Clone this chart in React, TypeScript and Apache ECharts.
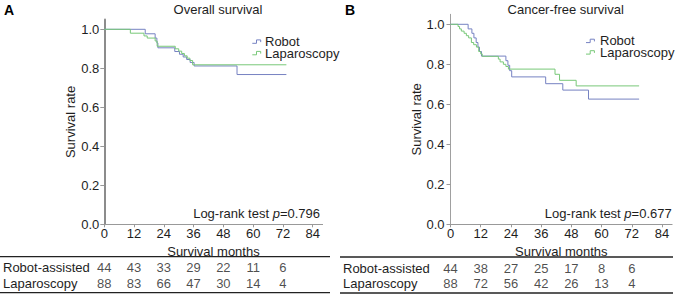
import React, { useEffect, useRef } from 'react';
import * as echarts from 'echarts';

const FONT = '"Liberation Sans", Arial, sans-serif';
const BLUE = '#7682c2';
const GREEN = '#78c878';
const AXIS = '#999999';
const TEXT = '#1e1e1e';

const xTickValues = [0, 12, 24, 36, 48, 60, 72, 84];
const yTickValues = [0, 0.2, 0.4, 0.6, 0.8, 1.0];
const riskTimes = [0, 12, 24, 36, 48, 60, 72];
const rowNames = ['Robot-assisted', 'Laparoscopy'];
const legendNames = ['Robot', 'Laparoscopy'];

const panelTitles = ['Overall survival', 'Cancer-free survival'];
const panelLetters = ['A', 'B'];
const logRankP = ['0.796', '0.677'];

// Overall survival (months, survival probability)
const osRobot: number[][] = [
  [0, 1], [16.5, 0.977], [20.5, 0.955], [21.2, 0.93], [21.6, 0.905], [28.4, 0.886],
  [30.3, 0.872], [31.8, 0.858], [33.2, 0.845], [34.6, 0.83], [36.2, 0.812],
  [53.5, 0.768], [73.4, 0.768],
];
const osLap: number[][] = [
  [0, 1], [10.5, 0.98], [16, 0.966], [17.3, 0.955], [20.5, 0.94], [21.3, 0.913],
  [28.6, 0.9], [30, 0.888], [31.2, 0.876], [32.3, 0.864], [33.4, 0.852],
  [34.5, 0.84], [35.6, 0.818], [73.4, 0.818],
];

// Cancer-free survival
const cfsRobot: number[][] = [
  [0, 1], [7, 0.977], [8.5, 0.955], [9.3, 0.932], [10.2, 0.909], [10.9, 0.886],
  [11.5, 0.864], [12.3, 0.841], [22, 0.818], [22.8, 0.795], [23.5, 0.768],
  [24.3, 0.737], [37.8, 0.703], [44.6, 0.671], [54.8, 0.626], [74.9, 0.626],
];
const cfsLap: number[][] = [
  [0, 1], [3, 0.989], [3.6, 0.977], [4.3, 0.966], [5.4, 0.955], [6.3, 0.943],
  [7.2, 0.932], [8.3, 0.909], [9.2, 0.898], [10.3, 0.886], [11.2, 0.864],
  [12, 0.852], [12.6, 0.84], [19, 0.826], [19.7, 0.812], [21, 0.8], [22, 0.789],
  [23, 0.776], [41.5, 0.75], [43.3, 0.72], [49.9, 0.692], [74.9, 0.692],
];

// Numbers at risk
const osRobotRisk = [44, 43, 33, 29, 22, 11, 6];
const osLapRisk = [88, 83, 66, 47, 30, 14, 4];
const cfsRobotRisk = [44, 38, 27, 25, 17, 8, 6];
const cfsLapRisk = [88, 72, 56, 42, 26, 13, 4];

const panels = [
  {
    left: 104.3, width: 218.3, top: 19.55, height: 204.75,
    tableTop: 259.9, tableHeight: 31.4,
    yAxisWidth: 2, yAxisColor: '#8c8c8c', yLabelMargin: 5, yNameGap: 26,
    rowLabelMargin: 101.3,
    titleX: 218, legendIconX: 252.3, legendTextX: 265,
    pTextX: 320, lineX0: 0, lineX1: 330, lineY0: 256.7, lineY1: 292.7,
    robot: osRobot, lap: osLap, robotRisk: osRobotRisk, lapRisk: osLapRisk,
    firstColOffset: -1,
  },
  {
    left: 450.5, width: 221.6, top: 14.3, height: 210,
    tableTop: 260.2, tableHeight: 31.6,
    yAxisWidth: 1, yAxisColor: '#a0a0a0', yLabelMargin: 6, yNameGap: 21,
    rowLabelMargin: 107.5,
    titleX: 565.7, legendIconX: 586, legendTextX: 600,
    pTextX: 671.7, lineX0: 340, lineX1: 673, lineY0: 257, lineY1: 293,
    robot: cfsRobot, lap: cfsLap, robotRisk: cfsRobotRisk, lapRisk: cfsLapRisk,
    firstColOffset: -6,
  },
];

function buildOption() {
  const grid: any[] = [];
  const xAxis: any[] = [];
  const yAxis: any[] = [];
  const series: any[] = [];
  const graphic: any[] = [];

  panels.forEach((p, i) => {
    grid.push({
      left: p.left, top: p.top, width: p.width, height: p.height,
      containLabel: false, outerBoundsMode: 'none',
    });
    grid.push({
      left: p.left, top: p.tableTop, width: p.width, height: p.tableHeight,
      containLabel: false, outerBoundsMode: 'none',
    });

    xAxis.push({
      type: 'value', gridIndex: i * 2, min: 0, max: 88,
      name: 'Survival months', nameLocation: 'middle', nameGap: 14,
      nameTextStyle: { fontFamily: FONT, fontSize: 13, color: TEXT },
      axisLine: { show: true, lineStyle: { color: AXIS, width: 1 } },
      axisTick: { show: true, length: 3, lineStyle: { color: AXIS }, customValues: xTickValues },
      axisLabel: {
        show: true, margin: 3, fontFamily: FONT, fontSize: 13, color: TEXT,
        customValues: xTickValues,
      },
      splitLine: { show: false },
    });
    xAxis.push({
      type: 'value', gridIndex: i * 2 + 1, min: 0, max: 88, show: false,
    });

    yAxis.push({
      type: 'value', gridIndex: i * 2, min: 0, max: 1.05,
      name: 'Survival rate', nameLocation: 'middle', nameGap: p.yNameGap, nameRotate: 90,
      nameTextStyle: { fontFamily: FONT, fontSize: 13, color: TEXT },
      axisLine: { show: true, lineStyle: { color: p.yAxisColor, width: p.yAxisWidth } },
      axisTick: { show: true, length: 4, lineStyle: { color: AXIS }, customValues: yTickValues },
      axisLabel: {
        show: true, margin: p.yLabelMargin, fontFamily: FONT, fontSize: 13, color: TEXT,
        customValues: yTickValues,
        formatter: (v: number) => v.toFixed(1),
      },
      splitLine: { show: false },
    });
    yAxis.push({
      type: 'category', gridIndex: i * 2 + 1, data: rowNames, inverse: true,
      axisLine: { show: false }, axisTick: { show: false }, splitLine: { show: false },
      axisLabel: {
        show: true, interval: 0, align: 'left', margin: p.rowLabelMargin,
        fontFamily: FONT, fontSize: 13, color: TEXT, lineHeight: 13,
      },
    });

    series.push({
      type: 'line', name: legendNames[0], xAxisIndex: i * 2, yAxisIndex: i * 2,
      data: p.robot, step: 'end', showSymbol: false, symbol: 'none',
      lineStyle: { color: BLUE, width: 1 }, itemStyle: { color: BLUE }, z: 2,
    });
    series.push({
      type: 'line', name: legendNames[1], xAxisIndex: i * 2, yAxisIndex: i * 2,
      data: p.lap, step: 'end', showSymbol: false, symbol: 'none',
      lineStyle: { color: GREEN, width: 1 }, itemStyle: { color: GREEN }, z: 3,
    });

    const tableData: any[] = [];
    [p.robotRisk, p.lapRisk].forEach((arr, r) => {
      arr.forEach((n, k) => {
        const item: any = { value: [riskTimes[k], r, n] };
        if (k === 0) item.label = { offset: [p.firstColOffset, 0] };
        tableData.push(item);
      });
    });
    series.push({
      type: 'scatter', xAxisIndex: i * 2 + 1, yAxisIndex: i * 2 + 1,
      data: tableData, symbol: 'circle', symbolSize: 2,
      itemStyle: { color: 'rgba(255,255,255,0)' },
      label: {
        show: true, position: 'inside', fontFamily: FONT, fontSize: 13, color: TEXT,
        formatter: (prm: any) => String(prm.value[2]),
      },
      labelLayout: { hideOverlap: false },
      silent: true, z: 5,
    });

    graphic.push({
      type: 'text', left: i === 0 ? 4 : 345, top: 3,
      style: { text: panelLetters[i], font: `bold 14px ${FONT}`, fill: '#000' },
    });
    graphic.push({
      type: 'text', x: p.titleX, y: 9.5,
      style: {
        text: panelTitles[i], font: `13px ${FONT}`, fill: TEXT,
        align: 'center', verticalAlign: 'middle',
      },
    });
    legendNames.forEach((nm, r) => {
      const cy = (i === 0 ? 41.5 : 40.8) + r * 11.5;
      const ix = p.legendIconX;
      graphic.push({
        type: 'polyline',
        shape: {
          points: [[ix, cy + 1.8], [ix + 4.2, cy + 1.8], [ix + 4.2, cy - 1.6], [ix + 8.4, cy - 1.6], [ix + 8.4, cy + 0.6]],
        },
        style: { stroke: r === 0 ? BLUE : GREEN, lineWidth: 1, fill: 'none' },
      });
      graphic.push({
        type: 'text', x: p.legendTextX, y: cy,
        style: {
          text: nm, font: `13px ${FONT}`, fill: TEXT, verticalAlign: 'middle', align: 'left',
          lineHeight: 10,
        },
      });
    });
    graphic.push({
      type: 'text', x: p.pTextX, y: 213,
      style: {
        text: `Log-rank test {i|p}=${logRankP[i]}`,
        font: `13px ${FONT}`, fill: TEXT, align: 'right', verticalAlign: 'middle',
        rich: { i: { fontStyle: 'italic', fontFamily: FONT, fontSize: 13, fill: TEXT } },
      },
    });
    [p.lineY0, p.lineY1].forEach((ly) => {
      graphic.push({
        type: 'line',
        shape: { x1: p.lineX0, y1: ly, x2: p.lineX1, y2: ly },
        style: { stroke: '#222', lineWidth: 1.3 },
      });
    });
  });

  return {
    animation: false,
    backgroundColor: '#ffffff',
    textStyle: { fontFamily: FONT },
    grid, xAxis, yAxis, series, graphic,
  };
}

export default function App() {
  const ref = useRef<HTMLDivElement>(null);
  useEffect(() => {
    if (!ref.current) return;
    const chart = echarts.init(ref.current, undefined, { renderer: 'svg' });
    chart.setOption(buildOption() as any);
    return () => chart.dispose();
  }, []);
  return (
    <div
      ref={ref}
      style={{ position: 'fixed', left: 0, top: 0, width: 677, height: 295, background: '#fff' }}
    />
  );
}
